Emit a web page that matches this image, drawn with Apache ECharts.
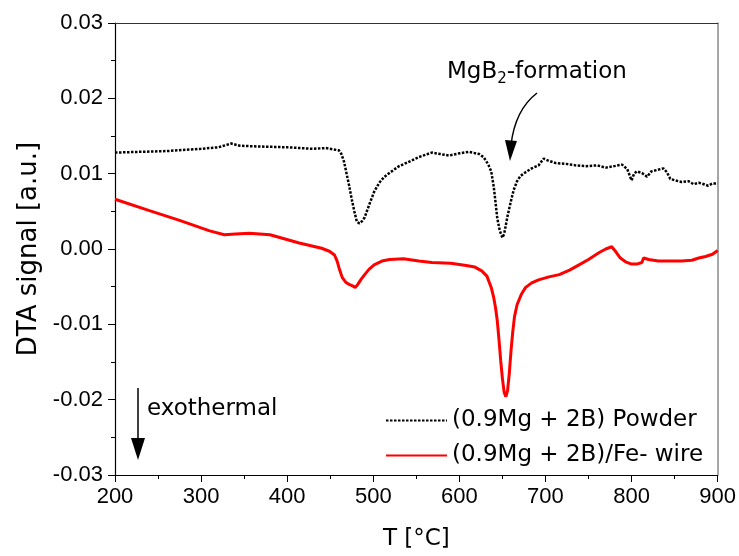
<!DOCTYPE html>
<html style="height: 100%">
   <head>
       <meta charset="utf-8">
       <script type="text/javascript" src="https://cdn.jsdelivr.net/npm/echarts/dist/echarts.min.js"></script>
   </head>
   <body style="height: 100%; margin: 0; background: #fff">
       <div id="dtaContainer" style="width: 739px; height: 556px"></div>
   </body>
</html>
<script type="text/javascript">
    // (0.9Mg + 2B) Powder - temperature / signal pairs
    var powderT = [200, 230, 260, 300, 320, 335, 345, 370, 400, 430, 445, 460, 463, 466, 469, 472, 475, 478, 481, 484, 487, 490, 495, 501, 507, 513, 520, 530, 540, 553, 568, 578, 588, 600, 611, 623, 628, 631, 634, 637, 640, 642, 644, 647, 650, 652, 654, 656, 658, 660, 663, 667, 671, 677, 684, 692, 698, 704, 712, 724, 735, 747, 760, 770, 780, 789, 795, 800, 803, 806, 812, 818, 823, 830, 837, 841, 845, 851, 858, 866, 872, 878, 884, 889, 894, 900];
    var powderV = [0.0128, 0.0129, 0.0130, 0.0133, 0.0135, 0.0140, 0.0137, 0.0136, 0.0135, 0.0133, 0.0134, 0.0131, 0.0126, 0.0116, 0.0100, 0.0084, 0.0066, 0.0050, 0.0036, 0.0034, 0.0037, 0.0042, 0.0058, 0.0076, 0.0088, 0.0096, 0.0102, 0.0110, 0.0115, 0.0122, 0.0128, 0.0126, 0.0124, 0.0127, 0.0129, 0.0126, 0.0122, 0.0117, 0.0111, 0.0103, 0.0082, 0.0062, 0.0041, 0.0024, 0.0015, 0.0020, 0.0032, 0.0044, 0.0054, 0.0064, 0.0078, 0.0090, 0.0097, 0.0102, 0.0107, 0.0111, 0.0120, 0.0117, 0.0114, 0.0113, 0.0111, 0.0110, 0.0111, 0.0108, 0.0110, 0.0112, 0.0106, 0.0091, 0.0100, 0.0103, 0.0101, 0.0096, 0.0103, 0.0105, 0.0107, 0.0102, 0.0093, 0.0091, 0.0089, 0.0090, 0.0086, 0.0088, 0.0086, 0.0084, 0.0087, 0.0087];

    // (0.9Mg + 2B)/Fe- wire
    var wireT = [200, 240, 275, 310, 327, 340, 356, 380, 414, 440, 449, 455, 458, 461, 464, 468, 472, 476, 479, 482, 486, 490, 495, 501, 510, 519, 535, 553, 568, 590, 608, 618, 626, 632, 637, 640, 642, 644, 646, 648, 650, 652, 654, 656, 658, 660, 662, 664, 667, 672, 677, 684, 692, 704, 716, 728, 739, 750, 762, 770, 777, 782, 787, 793, 800, 806, 812, 814, 820, 831, 845, 858, 870, 878, 886, 894, 900];
    var wireV = [0.0066, 0.0051, 0.0038, 0.0024, 0.0019, 0.0020, 0.0021, 0.0019, 0.0008, 0.0001, -0.0003, -0.0008, -0.0016, -0.0028, -0.0038, -0.0044, -0.0047, -0.0049, -0.0051, -0.0047, -0.0040, -0.0034, -0.0027, -0.0021, -0.0016, -0.0014, -0.0013, -0.0016, -0.0018, -0.0019, -0.0022, -0.0024, -0.0029, -0.0036, -0.0051, -0.0065, -0.0078, -0.0095, -0.0120, -0.0148, -0.0172, -0.0190, -0.0196, -0.0188, -0.0165, -0.0135, -0.0110, -0.0090, -0.0074, -0.0060, -0.0051, -0.0045, -0.0041, -0.0037, -0.0034, -0.0028, -0.0021, -0.0014, -0.0005, 0.0000, 0.0003, -0.0004, -0.0012, -0.0017, -0.0020, -0.0020, -0.0018, -0.0012, -0.0014, -0.0016, -0.0016, -0.0016, -0.0015, -0.0012, -0.0010, -0.0007, -0.0002];

    var seriesNames = ['(0.9Mg + 2B) Powder', '(0.9Mg + 2B)/Fe- wire'];

    function pairs(xs, ys) {
        var out = [];
        for (var i = 0; i < xs.length; i++) {
            out.push([xs[i], ys[i]]);
        }
        return out;
    }

    var dom = document.getElementById("dtaContainer");
    var dtaChart = echarts.init(dom);
    var tickFont = 'Liberation Sans';
    var textFont = 'DejaVu Sans';

    var option = {
        backgroundColor: '#fff',
        animation: false,
        textStyle: { fontFamily: tickFont },
        grid: { left: 115, right: 20, top: 23, bottom: 77 },
        legend: {
            orient: 'vertical',
            left: 380,
            top: 404,
            itemWidth: 61,
            itemHeight: 14,
            itemGap: 12,
            itemStyle: { opacity: 0 },
            textStyle: { fontFamily: textFont, fontSize: 23, color: '#000' },
            data: seriesNames
        },
        xAxis: [{
            type: 'value',
            min: 200,
            max: 900,
            interval: 100,
            name: 'T [°C]',
            nameLocation: 'middle',
            nameGap: 53,
            nameTextStyle: { fontFamily: textFont, fontSize: 23, color: '#000' },
            axisLine: { onZero: false, lineStyle: { color: '#000', width: 1.2 } },
            axisTick: { inside: false, length: 7, lineStyle: { color: '#000' } },
            minorTick: { show: true, splitNumber: 2, length: 4, lineStyle: { color: '#000' } },
            axisLabel: { fontFamily: tickFont, fontSize: 22, color: '#000', margin: 11 },
            splitLine: { show: false }
        }, {
            type: 'value',
            position: 'top',
            min: 200,
            max: 900,
            axisLine: { show: true, onZero: false, lineStyle: { color: '#333', width: 1.2 } },
            axisTick: { show: false },
            axisLabel: { show: false },
            splitLine: { show: false }
        }],
        yAxis: [{
            type: 'value',
            min: -0.03,
            max: 0.03,
            interval: 0.01,
            name: 'DTA signal [a.u.]',
            nameLocation: 'middle',
            nameGap: 70,
            nameTextStyle: { fontFamily: textFont, fontSize: 26, color: '#000' },
            axisLine: { show: true, onZero: false, lineStyle: { color: '#000', width: 1.2 } },
            axisTick: { inside: false, length: 7, lineStyle: { color: '#000' } },
            minorTick: { show: true, splitNumber: 2, length: 4, lineStyle: { color: '#000' } },
            axisLabel: {
                fontFamily: tickFont, fontSize: 22, color: '#000', margin: 12,
                formatter: function (v) { return (Math.round(v * 100) / 100).toFixed(2); }
            },
            splitLine: { show: false }
        }, {
            type: 'value',
            position: 'right',
            min: -0.03,
            max: 0.03,
            axisLine: { show: true, onZero: false, lineStyle: { color: '#888', width: 1.5 } },
            axisTick: { show: false },
            axisLabel: { show: false },
            splitLine: { show: false }
        }],
        series: [
            {
                name: seriesNames[0],
                type: 'line',
                symbol: 'none',
                data: pairs(powderT, powderV),
                lineStyle: { color: '#000', width: 2.5, type: [2.5, 1.5] },
                itemStyle: { color: '#000' }
            },
            {
                name: seriesNames[1],
                type: 'line',
                symbol: 'none',
                data: pairs(wireT, wireV),
                lineStyle: { color: '#ff0000', width: 3 },
                itemStyle: { color: '#ff0000' }
            }
        ],
        graphic: [
            {
                type: 'text',
                left: 447,
                top: 61,
                style: {
                    text: 'MgB{sub|2}-formation',
                    fontFamily: textFont,
                    fontSize: 23,
                    fill: '#000',
                    rich: {
                        sub: { fontFamily: textFont, fontSize: 15, fill: '#000', padding: [14, 0, 0, 0] }
                    }
                }
            },
            {
                type: 'bezierCurve',
                shape: { x1: 537, y1: 93, x2: 511, y2: 145, cpx1: 515, cpy1: 110 },
                style: { stroke: '#000', lineWidth: 1.5, fill: null }
            },
            {
                type: 'polygon',
                shape: { points: [[505, 140], [517, 141], [510, 161]] },
                style: { fill: '#000' }
            },
            {
                type: 'text',
                left: 147,
                top: 398,
                style: { text: 'exothermal', fontFamily: textFont, fontSize: 23, fill: '#000' }
            },
            {
                type: 'line',
                shape: { x1: 138, y1: 388, x2: 138, y2: 445 },
                style: { stroke: '#000', lineWidth: 1.5 }
            },
            {
                type: 'polygon',
                shape: { points: [[131, 438], [145, 438], [138, 460]] },
                style: { fill: '#000' }
            }
        ]
    };

    if (option && typeof option === "object") {
        dtaChart.setOption(option, true);
    }
</script>
